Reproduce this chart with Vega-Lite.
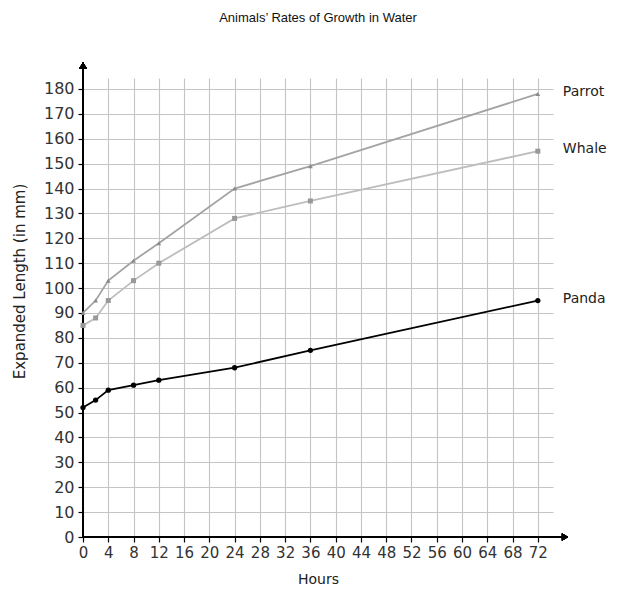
{
  "$schema": "https://vega.github.io/schema/vega-lite/v6.json",
  "width": 470,
  "height": 459,
  "autosize": "none",
  "padding": {"left": 83, "top": 78, "right": 64, "bottom": 55},
  "background": "white",
  "config": {"font": "DejaVu Sans", "view": {"stroke": null}},
  "title": {"text": "Animals’ Rates of Growth in Water", "font": "Liberation Sans", "fontSize": 13, "fontWeight": "normal", "color": "#111", "offset": 37, "anchor": "middle"},
  "data": {"values": [
    {"Animal": "Parrot", "Hours": 0, "Length": 90},
    {"Animal": "Parrot", "Hours": 2, "Length": 95},
    {"Animal": "Parrot", "Hours": 4, "Length": 103},
    {"Animal": "Parrot", "Hours": 8, "Length": 111},
    {"Animal": "Parrot", "Hours": 12, "Length": 118},
    {"Animal": "Parrot", "Hours": 24, "Length": 140},
    {"Animal": "Parrot", "Hours": 36, "Length": 149},
    {"Animal": "Parrot", "Hours": 72, "Length": 178},
    {"Animal": "Whale", "Hours": 0, "Length": 85},
    {"Animal": "Whale", "Hours": 2, "Length": 88},
    {"Animal": "Whale", "Hours": 4, "Length": 95},
    {"Animal": "Whale", "Hours": 8, "Length": 103},
    {"Animal": "Whale", "Hours": 12, "Length": 110},
    {"Animal": "Whale", "Hours": 24, "Length": 128},
    {"Animal": "Whale", "Hours": 36, "Length": 135},
    {"Animal": "Whale", "Hours": 72, "Length": 155},
    {"Animal": "Panda", "Hours": 0, "Length": 52},
    {"Animal": "Panda", "Hours": 2, "Length": 55},
    {"Animal": "Panda", "Hours": 4, "Length": 59},
    {"Animal": "Panda", "Hours": 8, "Length": 61},
    {"Animal": "Panda", "Hours": 12, "Length": 63},
    {"Animal": "Panda", "Hours": 24, "Length": 68},
    {"Animal": "Panda", "Hours": 36, "Length": 75},
    {"Animal": "Panda", "Hours": 72, "Length": 95}
  ]},
  "encoding": {
    "x": {"field": "Hours", "type": "quantitative",
      "scale": {"domain": [0, 74.4], "nice": false, "zero": false},
      "axis": {"values": [0,4,8,12,16,20,24,28,32,36,40,44,48,52,56,60,64,68,72], "grid": true, "gridColor": "#c4c4c4", "gridWidth": 1.1,
        "domain": false, "tickColor": "#000", "tickSize": 5, "tickWidth": 1.2,
        "labelFontSize": 15, "labelColor": "#333", "labelPadding": 3, "labelFlush": false,
        "title": "Hours", "titleFontSize": 14, "titleFontWeight": "normal", "titleColor": "#222", "titlePadding": 12}},
    "y": {"field": "Length", "type": "quantitative",
      "scale": {"domain": [0, 184.4], "nice": false, "zero": false},
      "axis": {"values": [0,10,20,30,40,50,60,70,80,90,100,110,120,130,140,150,160,170,180], "grid": true, "gridColor": "#c4c4c4", "gridWidth": 1.1,
        "domain": false, "tickColor": "#000", "tickSize": 5, "tickWidth": 1.2,
        "labelFontSize": 16, "labelColor": "#333", "labelPadding": 4, "labelFlush": false,
        "title": "Expanded Length (in mm)", "titleFontSize": 15, "titleFontWeight": "normal", "titleColor": "#222",
        "titleX": -56, "titleY": 203}}
  },
  "layer": [
    {"mark": {"type": "rule", "color": "#000", "strokeWidth": 1.3},
     "encoding": {"x": {"datum": 0}, "x2": {"datum": 76}, "y": {"datum": 0}}},
    {"mark": {"type": "rule", "color": "#000", "strokeWidth": 1.3},
     "encoding": {"x": {"datum": 0}, "y": {"datum": 0}, "y2": {"datum": 188}}},
    {"mark": {"type": "point", "shape": "triangle-right", "filled": true, "color": "#000", "size": 50, "opacity": 1},
     "encoding": {"x": {"datum": 76.3}, "y": {"datum": 0}}},
    {"mark": {"type": "point", "shape": "triangle-up", "filled": true, "color": "#000", "size": 50, "opacity": 1},
     "encoding": {"x": {"datum": 0}, "y": {"datum": 189.5}}},
    {"mark": {"type": "line", "strokeWidth": 1.8},
     "encoding": {"color": {"field": "Animal", "type": "nominal", "legend": null,
       "scale": {"domain": ["Parrot", "Whale", "Panda"], "range": ["#a3a3a3", "#bdbdbd", "#000000"]}}}},
    {"mark": {"type": "point", "filled": true, "opacity": 1},
     "encoding": {
       "shape": {"field": "Animal", "type": "nominal", "legend": null,
         "scale": {"domain": ["Parrot", "Whale", "Panda"], "range": ["triangle-up", "square", "circle"]}},
       "fill": {"field": "Animal", "type": "nominal", "legend": null,
         "scale": {"domain": ["Parrot", "Whale", "Panda"], "range": ["#8a8a8a", "#999999", "#000000"]}},
       "size": {"field": "Animal", "type": "nominal", "legend": null,
         "scale": {"domain": ["Parrot", "Whale", "Panda"], "range": [22, 28, 36]}}}},
    {"transform": [{"filter": "datum.Hours == 72"}],
     "mark": {"type": "text", "align": "left", "baseline": "middle", "dx": 25, "dy": -2, "fontSize": 14, "color": "#222"},
     "encoding": {"text": {"field": "Animal", "type": "nominal"}}}
  ]
}
